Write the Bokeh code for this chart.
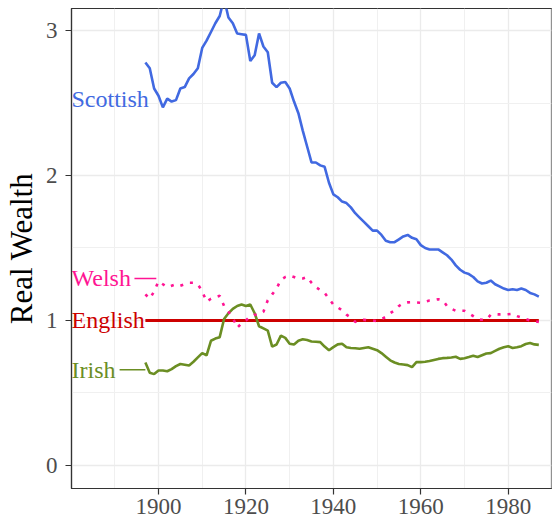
from bokeh.plotting import figure
from bokeh.models import Range1d, FixedTicker, ColumnDataSource
from bokeh.core.properties import value
from bokeh.embed import file_html
from bokeh.resources import INLINE

years = list(range(1897, 1988))

scottish = [2.78, 2.74, 2.60, 2.55, 2.47, 2.53, 2.51, 2.52, 2.60, 2.61,
            2.67, 2.70, 2.74, 2.88, 2.93, 2.99, 3.05, 3.10, 3.22, 3.09,
            3.05, 2.98, 2.975, 2.97, 2.79, 2.83, 2.98, 2.89, 2.85, 2.64,
            2.61, 2.64, 2.645, 2.60, 2.51, 2.43, 2.31, 2.20, 2.09, 2.09,
            2.07, 2.06, 1.95, 1.87, 1.85, 1.82, 1.81, 1.78, 1.74, 1.71,
            1.68, 1.65, 1.62, 1.62, 1.59, 1.55, 1.54, 1.54, 1.56, 1.58,
            1.59, 1.57, 1.56, 1.52, 1.50, 1.49, 1.49, 1.49, 1.47, 1.45,
            1.42, 1.38, 1.35, 1.33, 1.32, 1.30, 1.27, 1.255, 1.26, 1.275,
            1.25, 1.235, 1.22, 1.21, 1.215, 1.21, 1.22, 1.21, 1.19, 1.18,
            1.165]

welsh = [1.18, 1.15, 1.20, 1.27, 1.25, 1.23, 1.24, 1.25, 1.24, 1.25,
         1.26, 1.26, 1.25, 1.20, 1.13, 1.15, 1.16, 1.17, 1.10, 1.06,
         1.02, 0.95, 0.98, 1.00, 1.03, 1.04, 1.04, 1.06, 1.14, 1.18,
         1.22, 1.28, 1.30, 1.31, 1.30, 1.29, 1.29, 1.30, 1.26, 1.23,
         1.21, 1.19, 1.15, 1.11, 1.09, 1.07, 1.04, 1.02, 0.99, 1.00,
         1.005, 1.00, 1.00, 0.995, 1.01, 1.025, 1.05, 1.07, 1.10, 1.12,
         1.125, 1.126, 1.124, 1.122, 1.13, 1.138, 1.14, 1.147, 1.14, 1.10,
         1.08, 1.067, 1.067, 1.067, 1.05, 1.03, 1.01, 1.005, 1.005, 1.04,
         1.043, 1.042, 1.041, 1.043, 1.046, 1.03, 1.02, 1.01, 1.00, 0.995,
         0.99]

english = [1.0] * len(years)

irish = [0.71, 0.64, 0.63, 0.655, 0.655, 0.65, 0.665, 0.685, 0.70, 0.695,
         0.69, 0.715, 0.745, 0.775, 0.76, 0.86, 0.875, 0.885, 1.01, 1.05,
         1.08, 1.10, 1.11, 1.10, 1.11, 1.05, 0.96, 0.945, 0.93, 0.82,
         0.834, 0.895, 0.88, 0.84, 0.834, 0.86, 0.87, 0.865, 0.855, 0.853,
         0.851, 0.82, 0.795, 0.816, 0.835, 0.84, 0.815, 0.81, 0.808, 0.805,
         0.81, 0.815, 0.805, 0.795, 0.775, 0.75, 0.725, 0.71, 0.70, 0.696,
         0.692, 0.678, 0.713, 0.713, 0.715, 0.72, 0.728, 0.735, 0.74, 0.742,
         0.745, 0.75, 0.735, 0.74, 0.748, 0.757, 0.748, 0.76, 0.772, 0.775,
         0.79, 0.805, 0.815, 0.822, 0.81, 0.815, 0.823, 0.838, 0.845, 0.835,
         0.832]

label_names = ["Scottish", "Welsh", "English", "Irish"]
label_y = [2.53, 1.29, 1.0, 0.66]
colors = ["#4169E1", "#FF1493", "#CD0000", "#6B8E23"]

x_ticks = [1900, 1920, 1940, 1960, 1980]
x_minor = [1890, 1910, 1930, 1950, 1970, 1990]
y_ticks = [0, 1, 2, 3]
y_minor = [0.5, 1.5, 2.5]

FONT = "Liberation Serif"

p = figure(width=552, height=522, output_backend="svg", toolbar_location=None,
           x_range=Range1d(1880.1, 1989.9), y_range=Range1d(-0.159, 3.152),
           min_border_left=71, min_border_right=1, min_border_top=8,
           min_border_bottom=34)

p.background_fill_color = "white"
p.border_fill_color = "white"
p.outline_line_color = "#333333"
p.outline_line_width = 1.2

p.xaxis.ticker = FixedTicker(ticks=x_ticks, minor_ticks=x_minor)
p.yaxis.ticker = FixedTicker(ticks=y_ticks, minor_ticks=y_minor)

for ax in (p.xaxis, p.yaxis):
    ax.axis_line_color = "#333333"
    ax.axis_line_width = 1.2
    ax.major_tick_line_color = "#333333"
    ax.major_tick_line_width = 1.2
    ax.major_tick_out = 6
    ax.major_tick_in = 0
    ax.minor_tick_line_color = None
    ax.major_label_text_font = FONT
    ax.major_label_text_font_size = "23px"
    ax.major_label_text_color = "#4D4D4D"
p.xaxis.major_label_standoff = 4
p.yaxis.major_label_standoff = 8

p.yaxis.axis_label = "Real Wealth"
p.yaxis.axis_label_text_font = FONT
p.yaxis.axis_label_text_font_size = "31px"
p.yaxis.axis_label_text_font_style = "normal"
p.yaxis.axis_label_text_color = "black"
p.yaxis.axis_label_standoff = 4

p.xgrid.grid_line_color = "#EBEBEB"
p.ygrid.grid_line_color = "#EBEBEB"
p.xgrid.grid_line_width = 1.3
p.ygrid.grid_line_width = 1.3
p.xgrid.minor_grid_line_color = "#F0F0F0"
p.ygrid.minor_grid_line_color = "#F0F0F0"
p.xgrid.minor_grid_line_width = 1
p.ygrid.minor_grid_line_width = 1

src = ColumnDataSource(dict(year=years, scottish=scottish, welsh=welsh,
                            english=english, irish=irish))

p.line("year", "english", source=src, line_color=colors[2], line_width=3)
p.line("year", "irish", source=src, line_color=colors[3], line_width=2.6)
p.line("year", "welsh", source=src, line_color=colors[1], line_width=2.6,
       line_dash="3 7")
p.line("year", "scottish", source=src, line_color=colors[0], line_width=2.6)

# leader lines
p.line(x=[1894.5, 1899.5], y=[1.29, 1.29], line_color=colors[1], line_width=1.5)
p.line(x=[1891.1, 1897.0], y=[0.66, 0.66], line_color=colors[3], line_width=1.5)

lab = ColumnDataSource(dict(x=[1880.1] * 4, y=label_y, t=label_names, c=colors))
p.text(x="x", y="y", text="t", text_color="c", source=lab,
       text_font=value(FONT), text_font_size="24px",
       text_align="left", text_baseline="middle")

open("out.html", "w").write(file_html(p, INLINE))
